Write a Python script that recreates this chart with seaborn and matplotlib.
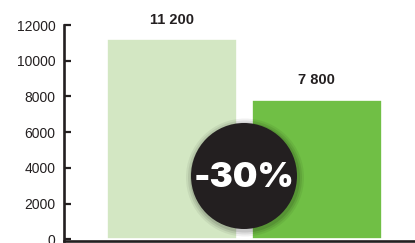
import matplotlib
matplotlib.use("Agg")
import matplotlib.pyplot as plt
from matplotlib.patches import Circle
import seaborn as sns
import pandas as pd

categories = ["Avant", "Après"]
values = [11200, 7800]
value_labels = ["11 200", "7 800"]
bar_colors = ["#d3e7c3", "#70bf45"]
yticks = [0, 2000, 4000, 6000, 8000, 10000, 12000]

sns.set_style("white")
plt.rcParams["font.family"] = ["Liberation Sans", "DejaVu Sans"]

W, H = 415, 243
fig = plt.figure(figsize=(W / 100, H / 100), dpi=100)
ax = fig.add_axes([64 / W, 2 / H, 1 - 64 / W, (240 - 24) / H])

df = pd.DataFrame({"cat": categories, "val": values})
sns.barplot(data=df, x="cat", y="val", hue="cat", palette=bar_colors,
            legend=False, width=0.9, ax=ax, saturation=1,
            edgecolor="white", linewidth=1.2)

ax.set_xlim(-0.75, 1.68)
ax.set_ylim(-100, 12000)
ax.set_yticks(yticks)
ax.set_yticklabels([str(t) for t in yticks], fontsize=10, color="#231f20")
ax.set_xticks([])
ax.set_xlabel("")
ax.set_ylabel("")
for s in ["top", "right"]:
    ax.spines[s].set_visible(False)
for s in ["left", "bottom"]:
    ax.spines[s].set_color("#231f20")
    ax.spines[s].set_linewidth(1.9)
ax.spines["left"].set_bounds(-100, 12000)
ax.tick_params(axis="y", direction="in", length=5, width=1.6, color="#231f20", pad=6, left=True)

for i, (v, lab) in enumerate(zip(values, value_labels)):
    ax.text(i, v + 700, lab, ha="center", va="bottom", fontsize=10.5,
            fontweight="bold", color="#231f20")

# change badge
pct = round((values[1] - values[0]) / values[0] * 100)
cx, cy, r = 244 / 100, (H - 176) / 100, 0.53
for k, a in [(0.06, 0.06), (0.04, 0.08), (0.02, 0.10)]:
    fig.add_artist(Circle((cx + 0.01, cy - 0.015), r + k, transform=fig.dpi_scale_trans,
                          facecolor="black", alpha=a, edgecolor="none"))
fig.add_artist(Circle((cx, cy), r, transform=fig.dpi_scale_trans,
                      facecolor="#231f20", edgecolor="none"))
fig.text(cx * 100 / W, (H - 178) / H, f"{pct}%", ha="center", va="center",
         fontsize=25, fontweight=900, color="white",
         family=["Inter", "DejaVu Sans"])

fig.savefig("out.png", dpi=100)
